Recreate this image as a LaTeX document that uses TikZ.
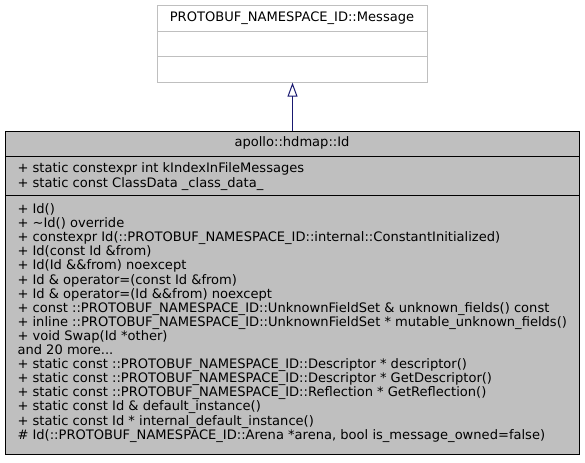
\documentclass[tikz,border=0pt]{standalone}
\usepackage{fontspec}
\setmainfont{DejaVu Sans}
\usetikzlibrary{arrows.meta}
\definecolor{edgeblue}{HTML}{191970}
\definecolor{boxgray}{HTML}{BFBFBF}
\begin{document}
\begin{tikzpicture}[x=0.75pt,y=-0.75pt,line width=0.75pt,
  txt/.style={font=\fontsize{9.8}{11}\selectfont,inner sep=0pt,anchor=base west},
  ttl/.style={font=\fontsize{9.8}{11}\selectfont,inner sep=0pt,anchor=base},
  baseclass/.style={draw=boxgray,fill=white,inner sep=0pt,anchor=north west,minimum width=202.5pt,minimum height=57.5pt},
  mainclass/.style={draw=black,fill=boxgray,inner sep=0pt,anchor=north west,minimum width=430.5pt,minimum height=242.25pt},
  inherit/.style={draw=edgeblue,-{Triangle[open,length=10.5pt,width=7.5pt]}}]
\useasboundingbox (0,0) rectangle (585,463);
% base class
\node[baseclass] (msg) at (157,5) {};
\draw[boxgray] (157,31.7) -- (427,31.7);
\draw[boxgray] (157,56.7) -- (427,56.7);
\node[ttl] (msgtitle) at (292,22) {PROTOBUF\_NAMESPACE\_ID::Message};
% main class
\node[mainclass] (id) at (5,131) {};
\draw (5,156.7) -- (579,156.7);
\draw (5,196) -- (579,196);
\node[ttl] (idtitle) at (292,147) {apollo::hdmap::Id};
\node[txt] (a1) at (17,173) {+ static constexpr int kIndexInFileMessages};
\node[txt] (a2) at (17,187.1) {+ static const ClassData \_class\_data\_};
\node[txt] (m1) at (17,213.5) {+ Id()};
\node[txt] (m2) at (17,227.6) {+ \textasciitilde Id() override};
\node[txt] (m3) at (17,241.7) {+ constexpr Id(::PROTOBUF\_NAMESPACE\_ID::internal::ConstantInitialized)};
\node[txt] (m4) at (17,255.8) {+ Id(const Id \&from)};
\node[txt] (m5) at (17,269.9) {+ Id(Id \&\&from) noexcept};
\node[txt] (m6) at (17,284.0) {+ Id \& operator=(const Id \&from)};
\node[txt] (m7) at (17,298.1) {+ Id \& operator=(Id \&\&from) noexcept};
\node[txt] (m8) at (17,312.2) {+ const ::PROTOBUF\_NAMESPACE\_ID::UnknownFieldSet \& unknown\_fields() const};
\node[txt] (m9) at (17,326.3) {+ inline ::PROTOBUF\_NAMESPACE\_ID::UnknownFieldSet * mutable\_unknown\_fields()};
\node[txt] (m10) at (17,340.4) {+ void Swap(Id *other)};
\node[txt] (m11) at (17,354.5) {and 20 more...};
\node[txt] (m12) at (17,368.6) {+ static const ::PROTOBUF\_NAMESPACE\_ID::Descriptor * descriptor()};
\node[txt] (m13) at (17,382.7) {+ static const ::PROTOBUF\_NAMESPACE\_ID::Descriptor * GetDescriptor()};
\node[txt] (m14) at (17,396.8) {+ static const ::PROTOBUF\_NAMESPACE\_ID::Reflection * GetReflection()};
\node[txt] (m15) at (17,410.9) {+ static const Id \& default\_instance()};
\node[txt] (m16) at (17,425.0) {+ static const Id * internal\_default\_instance()};
\node[txt] (m17) at (17,439.1) {\# Id(::PROTOBUF\_NAMESPACE\_ID::Arena *arena, bool is\_message\_owned=false)};
% inheritance
\draw[inherit] (id.north) -- (msg.south);
\end{tikzpicture}
\end{document}
